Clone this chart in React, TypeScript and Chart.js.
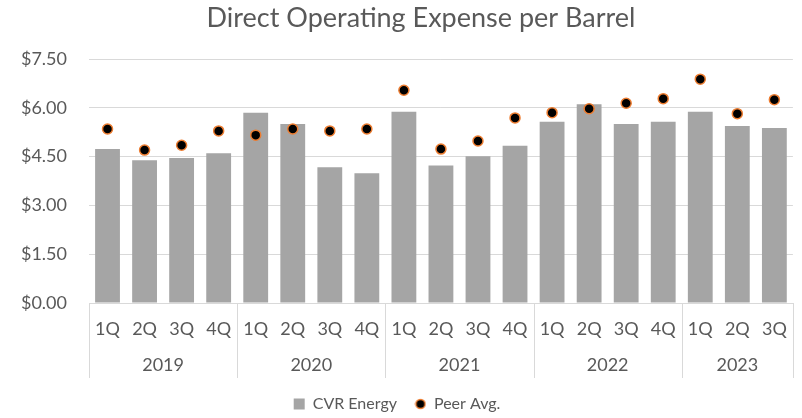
import React, { useEffect, useRef } from 'react';
import { Chart, registerables } from 'chart.js';

Chart.register(...registerables);

const chartTitle = 'Direct Operating Expense per Barrel';
const quarters = ['1Q', '2Q', '3Q', '4Q', '1Q', '2Q', '3Q', '4Q', '1Q', '2Q', '3Q', '4Q', '1Q', '2Q', '3Q', '4Q', '1Q', '2Q', '3Q'];
const years = ['2019', '2020', '2021', '2022', '2023'];
const quartersPerYear = [4, 4, 4, 4, 3];
const cvrEnergy = [4.73, 4.39, 4.46, 4.6, 5.85, 5.5, 4.17, 3.99, 5.88, 4.23, 4.51, 4.83, 5.57, 6.11, 5.5, 5.57, 5.88, 5.44, 5.38];
const peerAvg = [5.35, 4.7, 4.85, 5.29, 5.16, 5.35, 5.29, 5.35, 6.54, 4.73, 4.98, 5.69, 5.85, 5.97, 6.14, 6.28, 6.88, 5.82, 6.25];
const yMin = 0;
const yMax = 7.5;
const yStep = 1.5;

const FONT = 'Lato';
const TEXT = '#595959';
const GRID = '#D9D9D9';
const BAR = '#A5A5A5';
const DOT_FILL = '#000000';
const DOT_EDGE = '#ED7D31';

function makeDot(): HTMLCanvasElement {
  const c = document.createElement('canvas');
  c.width = 12;
  c.height = 12;
  const g = c.getContext('2d') as CanvasRenderingContext2D;
  g.beginPath();
  g.arc(6, 6, 4.6, 0, Math.PI * 2);
  g.fillStyle = DOT_FILL;
  g.fill();
  g.lineWidth = 1.5;
  g.strokeStyle = DOT_EDGE;
  g.stroke();
  return c;
}

const decorPlugin = {
  id: 'decor',
  afterDraw(chart: any) {
    const { ctx, chartArea, scales } = chart;
    const x = scales.x;
    const n = quarters.length;
    const w = (x.right - x.left) / n;
    const top = chartArea.bottom;
    const bottom = top + 75;
    ctx.save();
    // title
    ctx.fillStyle = TEXT;
    ctx.font = `27px ${FONT}`;
    ctx.textAlign = 'center';
    ctx.textBaseline = 'middle';
    ctx.fillText(chartTitle, 421, 18);
    // year group separators
    ctx.strokeStyle = GRID;
    ctx.lineWidth = 1;
    const bounds = [0];
    let idx = 0;
    quartersPerYear.forEach((c) => {
      idx += c;
      bounds.push(idx);
    });
    bounds.forEach((b) => {
      const px = Math.round(x.left + b * w) + 0.5;
      ctx.beginPath();
      ctx.moveTo(px, top);
      ctx.lineTo(px, bottom);
      ctx.stroke();
    });
    ctx.font = `18px ${FONT}`;
    years.forEach((yr, i) => {
      const cx = x.left + ((bounds[i] + bounds[i + 1]) / 2) * w;
      ctx.fillText(yr, cx, top + 62);
    });
    ctx.restore();
  },
};

export default function App() {
  const ref = useRef<HTMLCanvasElement>(null);
  useEffect(() => {
    document.body.style.margin = '0';
    const dot = makeDot();
    const chart = new Chart(ref.current as HTMLCanvasElement, {
      type: 'bar',
      data: {
        labels: quarters,
        datasets: [
          {
            type: 'bar',
            label: 'CVR Energy',
            data: cvrEnergy,
            backgroundColor: BAR,
            barPercentage: 0.67,
            categoryPercentage: 1,
            pointStyle: 'rect',
            order: 2,
          } as any,
          {
            type: 'line',
            label: 'Peer Avg.',
            data: peerAvg,
            showLine: false,
            pointRadius: 5,
            pointBackgroundColor: DOT_FILL,
            pointBorderColor: DOT_EDGE,
            pointBorderWidth: 1.5,
            backgroundColor: DOT_FILL,
            borderColor: DOT_EDGE,
            borderWidth: 1.5,
            pointStyle: 'circle',
            order: 1,
          } as any,
        ],
      },
      options: {
        responsive: false,
        animation: false,
        layout: { padding: { left: 0, right: 8, top: 59, bottom: 0 } },
        plugins: {
          title: { display: false },
          legend: {
            position: 'bottom',
            maxHeight: 40,
            labels: {
              usePointStyle: true,
              boxWidth: 11,
              boxHeight: 11,
              color: TEXT,
              font: { family: FONT, size: 16 },
              padding: 18,
              generateLabels: (ch: any) => {
                const items = (Chart.defaults.plugins.legend.labels as any).generateLabels(ch);
                items.forEach((it: any) => {
                  if (it.datasetIndex === 1) it.pointStyle = dot;
                  if (it.datasetIndex === 0) {
                    it.pointStyle = 'rect';
                    it.lineWidth = 0;
                  }
                });
                return items.sort((a: any, b: any) => a.datasetIndex - b.datasetIndex);
              },
            },
          },
          tooltip: { enabled: false },
        },
        scales: {
          x: {
            grid: { display: false, drawTicks: false },
            border: { display: true, color: GRID },
            ticks: {
              color: TEXT,
              font: { family: FONT, size: 18 },
              padding: 15,
              maxRotation: 0,
              autoSkip: false,
            },
            afterFit(scale: any) {
              scale.height = 75;
            },
          },
          y: {
            min: yMin,
            max: yMax,
            grid: { color: GRID, drawTicks: false },
            border: { display: false },
            ticks: {
              stepSize: yStep,
              color: TEXT,
              font: { family: FONT, size: 18 },
              padding: 22,
              callback: (v: any) => '$' + Number(v).toFixed(2),
            },
            afterFit(scale: any) {
              scale.width = 89;
            },
          },
        },
      },
      plugins: [decorPlugin],
    });
    return () => chart.destroy();
  }, []);
  return (
    <div style={{ width: 802, height: 418 }}>
      <canvas ref={ref} width={802} height={418} />
    </div>
  );
}
